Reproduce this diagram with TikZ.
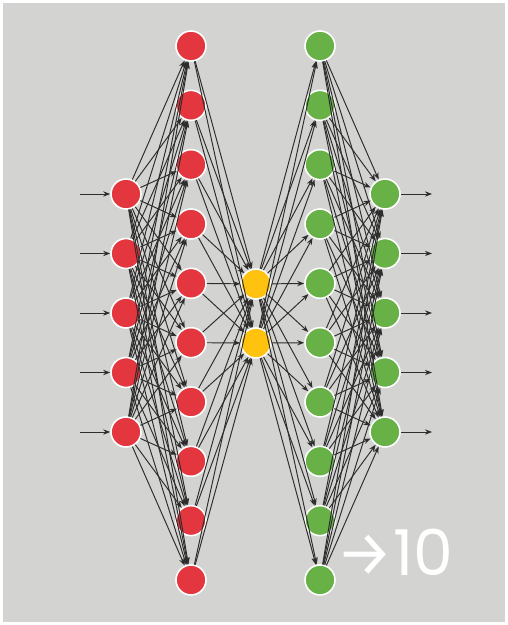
\documentclass[tikz,border=0pt]{standalone}
\usepackage{fontspec}
\usetikzlibrary{arrows.meta}
\newfontfamily\labelfont{Poppins}
\newfontfamily\arrowfont{Fira Sans}
\definecolor{netbg}{RGB}{211,211,209}
\definecolor{encred}{RGB}{228,54,62}
\definecolor{codeyellow}{RGB}{255,194,14}
\definecolor{decgreen}{RGB}{103,177,70}
\definecolor{wiregray}{RGB}{45,45,45}

\begin{document}
\begin{tikzpicture}[x=0.02cm, y=-0.02cm,
    neuron/.style={circle, draw=white, line width=0.9pt, inner sep=0pt, minimum size=0.6cm},
    wire/.style={-{Stealth[length=4pt, width=3pt]}, draw=wiregray, line width=0.55pt}
]
% frame
\useasboundingbox (0,0) rectangle (507,625);
\fill[white] (0,0) rectangle (507,625);
\fill[netbg] (3,3) rectangle (505,622);

% layers
\foreach \i in {1,...,5}
  \node[neuron, fill=encred] (in\i) at (126, {194+59.5*(\i-1)}) {};
\foreach \i in {1,...,10}
  \node[neuron, fill=encred] (enc\i) at (191, {46+59.33*(\i-1)}) {};
\node[neuron, fill=codeyellow] (code1) at (256, 284) {};
\node[neuron, fill=codeyellow] (code2) at (256, 343) {};
\foreach \i in {1,...,10}
  \node[neuron, fill=decgreen] (dec\i) at (320, {46+59.33*(\i-1)}) {};
\foreach \i in {1,...,5}
  \node[neuron, fill=decgreen] (out\i) at (385, {194+59.5*(\i-1)}) {};

% inputs and outputs
\foreach \i in {1,...,5} {
  \coordinate (src\i) at (80, {194+59.5*(\i-1)});
  \coordinate (dst\i) at (432, {194+59.5*(\i-1)});
  \draw[wire] (src\i) -- (in\i);
  \draw[wire] (out\i) -- (dst\i);
}

% connections
\foreach \i in {1,...,5}
  \foreach \j in {1,...,10}
    \draw[wire] (in\i) -- (enc\j);
\foreach \i in {1,...,10}
  \foreach \j in {1,2}
    \draw[wire] (enc\i) -- (code\j);
\foreach \i in {1,2}
  \foreach \j in {1,...,10}
    \draw[wire] (code\i) -- (dec\j);
\foreach \i in {1,...,10}
  \foreach \j in {1,...,5}
    \draw[wire] (dec\i) -- (out\j);

\node[anchor=west, text=white, inner sep=0pt] (ratio) at (336, 552)
  {{\arrowfont\fontsize{36}{36}\selectfont →}{\labelfont\fontsize{36}{36}\selectfont 10}};
\end{tikzpicture}
\end{document}
